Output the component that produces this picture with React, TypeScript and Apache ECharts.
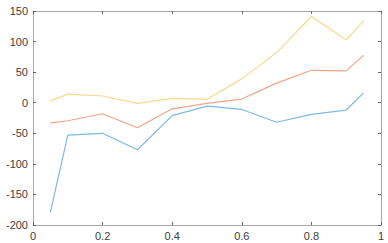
import React, { useEffect, useRef } from "react";
import * as echarts from "echarts";

const xValues = [0.05, 0.1, 0.2, 0.3, 0.4, 0.5, 0.6, 0.7, 0.8, 0.9, 0.95];
const blueSeries = [-179, -53, -50, -77, -21, -5.5, -11, -32, -19, -12, 16];
const redSeries = [-33, -29.5, -18, -41, -10, -1, 6, 32, 53, 52, 77.5];
const yellowSeries = [3, 14, 11, -1, 7, 5.5, 39, 82, 141, 103, 134];

const axisColor = "#a6a6a6";
const textColor = "#404040";

export default function App() {
  const ref = useRef<HTMLDivElement>(null);
  useEffect(() => {
    if (!ref.current) return;
    const chart = echarts.init(ref.current, undefined, { renderer: "svg" });
    const pair = (ys: number[]) => xValues.map((x, i) => [x, ys[i]]);
    const axisLine = { show: true, onZero: false, lineStyle: { color: axisColor, width: 1 } };
    const tick = { show: true, inside: true, length: 3, lineStyle: { color: "#666" } };
    chart.setOption({
      animation: false,
      backgroundColor: "#ffffff",
      grid: { left: 33, right: 7, top: 11, bottom: 18, containLabel: false },
      xAxis: [
        {
          type: "value",
          min: 0,
          max: 1,
          interval: 0.2,
          position: "bottom",
          axisLine,
          axisTick: tick,
          splitLine: { show: false },
          axisLabel: {
            color: textColor,
            fontFamily: "Liberation Sans, Arial, sans-serif",
            fontSize: 11,
            margin: 5,
            formatter: (v: number) => String(Math.round(v * 10) / 10),
          },
        },
        {
          type: "value",
          min: 0,
          max: 1,
          interval: 0.2,
          position: "top",
          axisLine,
          axisTick: tick,
          splitLine: { show: false },
          axisLabel: { show: false },
        },
      ],
      yAxis: [
        {
          type: "value",
          min: -200,
          max: 150,
          interval: 50,
          position: "left",
          axisLine,
          axisTick: tick,
          splitLine: { show: false },
          axisLabel: {
            color: textColor,
            fontFamily: "Liberation Sans, Arial, sans-serif",
            fontSize: 11,
            margin: 5,
          },
        },
        {
          type: "value",
          min: -200,
          max: 150,
          interval: 50,
          position: "right",
          axisLine,
          axisTick: tick,
          splitLine: { show: false },
          axisLabel: { show: false },
        },
      ],
      series: [
        {
          type: "line",
          data: pair(blueSeries),
          symbol: "none",
          lineStyle: { color: "#7db9e8", width: 1.2 },
        },
        {
          type: "line",
          data: pair(redSeries),
          symbol: "none",
          lineStyle: { color: "#f2a486", width: 1.2 },
        },
        {
          type: "line",
          data: pair(yellowSeries),
          symbol: "none",
          lineStyle: { color: "#f9d98c", width: 1.2 },
        },
      ],
    });
    return () => chart.dispose();
  }, []);
  return <div ref={ref} style={{ width: 388, height: 243, position: "absolute", left: 0, top: 0 }} />;
}
